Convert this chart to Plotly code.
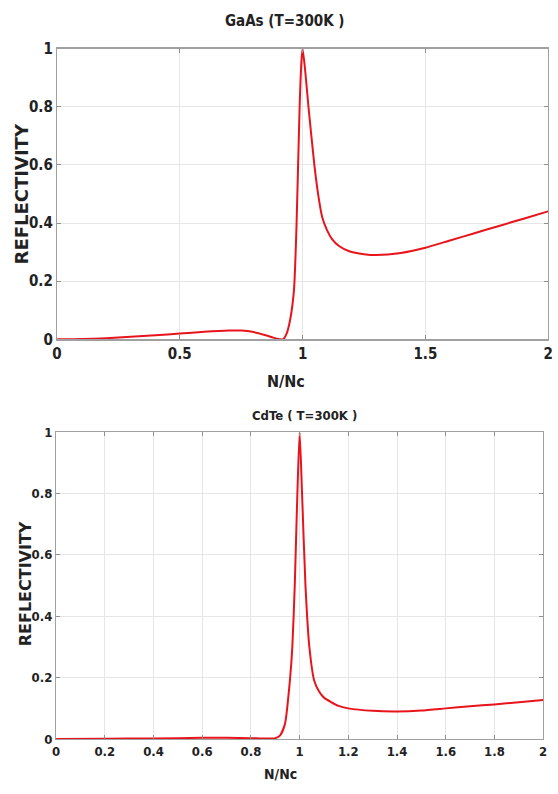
import plotly.graph_objects as go

# GaAs (T=300K)
gaas_x = [0, 0.1, 0.2, 0.3, 0.4, 0.5, 0.6, 0.7, 0.75, 0.8, 0.85, 0.88, 0.9, 0.92,
          0.935, 0.95, 0.965, 0.975, 0.988, 0.995, 1.0, 1.01, 1.024, 1.048, 1.065,
          1.08, 1.1, 1.12, 1.15, 1.19, 1.25, 1.3, 1.4, 1.5, 1.6, 1.7, 1.8, 1.9, 2.0]
gaas_y = [0, 0.001, 0.004, 0.009, 0.014, 0.02, 0.026, 0.03, 0.03, 0.025, 0.014, 0.006,
          0.001, 0.0, 0.02, 0.07, 0.17, 0.38, 0.8, 0.95, 1.0, 0.93, 0.8, 0.6, 0.49,
          0.42, 0.375, 0.345, 0.32, 0.303, 0.293, 0.29, 0.297, 0.315, 0.34, 0.365,
          0.39, 0.415, 0.44]

# CdTe (T=300K)
cdte_x = [0, 0.2, 0.4, 0.6, 0.7, 0.8, 0.85, 0.9, 0.92, 0.94, 0.96, 0.97, 0.98,
          0.99, 1.0, 1.01, 1.024, 1.04, 1.06, 1.08, 1.1, 1.16, 1.2, 1.3, 1.4, 1.5,
          1.6, 1.7, 1.8, 1.9, 2.0]
cdte_y = [0, 0.001, 0.002, 0.004, 0.004, 0.003, 0.002, 0.003, 0.012, 0.05, 0.19,
          0.3, 0.5, 0.78, 1.0, 0.8, 0.5, 0.3, 0.19, 0.155, 0.135, 0.108, 0.1, 0.092,
          0.09, 0.093, 0.1, 0.107, 0.113, 0.12, 0.127]

top_ticks = [0, 0.5, 1, 1.5, 2]
bottom_ticks = [0, 0.2, 0.4, 0.6, 0.8, 1, 1.2, 1.4, 1.6, 1.8, 2]
y_ticks = [0, 0.2, 0.4, 0.6, 0.8, 1]

W, H = 558, 794


def px(p):
    return p / W


def py(p):
    return 1 - p / H


NARROW = "DejaVu Sans Condensed, Liberation Sans Narrow, Arial Narrow, sans-serif"
WIDE = "DejaVu Sans, Liberation Sans, Arial"
INK = "#222222"

fig = go.Figure()
fig.add_trace(go.Scatter(x=gaas_x, y=gaas_y, mode="lines", xaxis="x", yaxis="y",
                         line=dict(color="#e8141c", width=2, shape="spline", smoothing=0.6),
                         showlegend=False, hoverinfo="skip"))
fig.add_trace(go.Scatter(x=cdte_x, y=cdte_y, mode="lines", xaxis="x2", yaxis="y2",
                         line=dict(color="#e8141c", width=2, shape="spline", smoothing=0.6),
                         showlegend=False, hoverinfo="skip"))


def axis_style(size):
    return dict(showgrid=True, gridcolor="#e6e6e6", gridwidth=1, zeroline=False,
                showline=True, linecolor="#a0a0a0", linewidth=1.2, mirror="ticks",
                ticks="inside", ticklen=4, tickcolor="#909090",
                tickfont=dict(family=NARROW, size=size, color=INK, weight="bold"))


fig.update_layout(
    width=W, height=H, margin=dict(l=0, r=0, t=0, b=0),
    paper_bgcolor="white", plot_bgcolor="white",
    xaxis=dict(domain=[px(53), px(553)], range=[0, 2], tickvals=top_ticks,
               anchor="y", **axis_style(15)),
    yaxis=dict(domain=[py(338), py(40.5)], range=[0, 1], tickvals=y_ticks,
               anchor="x", **axis_style(15)),
    xaxis2=dict(domain=[px(52), px(548)], range=[0, 2], tickvals=bottom_ticks,
                anchor="y2", **axis_style(13)),
    yaxis2=dict(domain=[py(747), py(433)], range=[0, 1], tickvals=y_ticks,
                anchor="x2", **axis_style(13)),
)

ann = [
    dict(text="<b>GaAs (T=300K )</b>", x=285, y=12, size=15),
    dict(text="<b>N/Nc</b>", x=286, y=381, size=16),
    dict(text="<b>CdTe ( T=300K )</b>", x=305, y=416, size=13),
    dict(text="<b>N/Nc</b>", x=281, y=783, size=14),
]
for a in ann:
    fig.add_annotation(text=a["text"], x=px(a["x"]), y=py(a["y"]), xref="paper", yref="paper",
                       showarrow=False, xanchor="center", yanchor="middle",
                       font=dict(family=NARROW, size=a["size"], color=INK))

fig.add_annotation(text="<b>REFLECTIVITY</b>", x=px(17), y=py(189), xref="paper",
                   yref="paper", showarrow=False, textangle=-90, xanchor="center",
                   yanchor="middle", font=dict(family=WIDE, size=18, color=INK))
fig.add_annotation(text="<b>REFLECTIVITY</b>", x=px(21), y=py(588), xref="paper",
                   yref="paper", showarrow=False, textangle=-90, xanchor="center",
                   yanchor="middle", font=dict(family=WIDE, size=16, color=INK))

fig.write_html(
    "out.html",
    config={"displayModeBar": False, "staticPlot": True},
    post_script="document.body.style.margin='0';document.body.style.overflow='hidden';",
)
